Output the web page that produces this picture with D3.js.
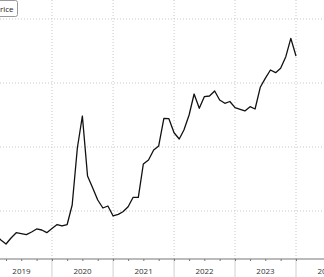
<!DOCTYPE html>
<html>
<head>
<meta charset="utf-8">
<style>
body { margin: 0; background: #fff; }
svg { display: block; font-family: "Open Sans", sans-serif; }
</style>
</head>
<body>
<svg width="324" height="277"></svg>
<script src="https://d3js.org/d3.v7.min.js"></script>
<script>
var svg = d3.select("svg"),
    width = +svg.attr("width"),
    height = +svg.attr("height");

// monthly price, Jan 2019 .. Jan 2024
var prices = [
  170.3, 162.5, 154.7, 148.4, 157.8, 166.1, 164.8, 163.0, 167.2, 171.9, 170.3, 166.1, // 2019
  172.7, 178.9, 176.6, 178.9, 209.4, 298.4, 348.4, 254.7, 235.9, 217.2, 204.7, 207.8, // 2020
  192.2, 194.8, 198.9, 206.7, 221.4, 221.4, 273.4, 279.7, 295.3, 301.6, 344.8, 344.2, // 2021
  322.3, 312.5, 326.6, 350.0, 382.8, 360.5, 378.6, 379.7, 387.5, 373.4, 368.3, 371.1, // 2022
  361.4, 358.9, 356.3, 363.0, 359.4, 393.3, 407.3, 420.3, 416.1, 423.0, 441.1, 469.8, // 2023
  442.2                                                                                // 2024
];
var years = ["2019", "2020", "2021", "2022", "2023", "2024"];
var gridValues = [200, 300, 400, 500];
var seriesName = "Price";

var months = d3.timeMonth.range(new Date(2019, 0, 1), new Date(2024, 1, 1));
var data = months.map(function(d, i) { return {date: d, value: prices[i]}; });

var axisY = 259;

var x = d3.scaleTime()
    .domain([new Date(2019, 0, 1), new Date(2024, 0, 1)])
    .range([-9, 296]);

var y = d3.scaleLinear()
    .domain([125, 125 + axisY / 0.64])
    .range([axisY, 0]);

// horizontal dotted grid
svg.append("g")
  .selectAll("line")
  .data(gridValues)
  .enter().append("line")
    .attr("x1", 0).attr("x2", width)
    .attr("y1", function(d) { return y(d); })
    .attr("y2", function(d) { return y(d); })
    .attr("stroke", "#c8c8c8")
    .attr("stroke-dasharray", "1,2");

var yearDates = years.map(function(d) { return new Date(+d, 0, 1); });

// vertical dotted grid at year starts
svg.append("g")
  .selectAll("line")
  .data(yearDates)
  .enter().append("line")
    .attr("x1", function(d) { return x(d); })
    .attr("x2", function(d) { return x(d); })
    .attr("y1", 0).attr("y2", axisY)
    .attr("stroke", "#c8c8c8")
    .attr("stroke-dasharray", "1,2");

// year separators below axis
svg.append("g")
  .selectAll("line")
  .data(yearDates)
  .enter().append("line")
    .attr("x1", function(d) { return x(d); })
    .attr("x2", function(d) { return x(d); })
    .attr("y1", axisY).attr("y2", height)
    .attr("stroke", "#d0d0d0");

// quarter ticks
var xAxis = svg.append("g")
    .attr("transform", "translate(0," + axisY + ")")
    .call(d3.axisBottom(x)
      .ticks(d3.timeMonth.every(3))
      .tickSize(2)
      .tickFormat(""));
xAxis.select(".domain").remove();
xAxis.selectAll("line").attr("stroke", "#777");

svg.append("line")
    .attr("x1", 0).attr("x2", width)
    .attr("y1", axisY).attr("y2", axisY)
    .attr("stroke", "#777")
    .attr("stroke-width", 1);

// year labels centred in each year
svg.append("g")
  .selectAll("text")
  .data(years)
  .enter().append("text")
    .attr("x", function(d) { return (x(new Date(+d, 0, 1)) + x(new Date(+d + 1, 0, 1))) / 2; })
    .attr("y", 274)
    .attr("text-anchor", "middle")
    .attr("font-size", 8)
    .attr("fill", "#333")
    .text(function(d) { return d; });

// price line
svg.append("path")
    .datum(data)
    .attr("fill", "none")
    .attr("stroke", "#111")
    .attr("stroke-width", 1.3)
    .attr("stroke-linejoin", "round")
    .attr("d", d3.line()
      .x(function(d) { return x(d.date); })
      .y(function(d) { return y(d.value); }));

// legend box (cut off at the left edge)
var legend = svg.append("g");
legend.append("rect")
    .attr("x", -20).attr("y", 0.5)
    .attr("width", 37.5).attr("height", 16)
    .attr("rx", 2)
    .attr("fill", "#fff")
    .attr("stroke", "#999");
legend.append("text")
    .attr("x", 13.5).attr("y", 12)
    .attr("text-anchor", "end")
    .attr("font-size", 8)
    .attr("fill", "#222")
    .text(seriesName);
</script>
</body>
</html>
